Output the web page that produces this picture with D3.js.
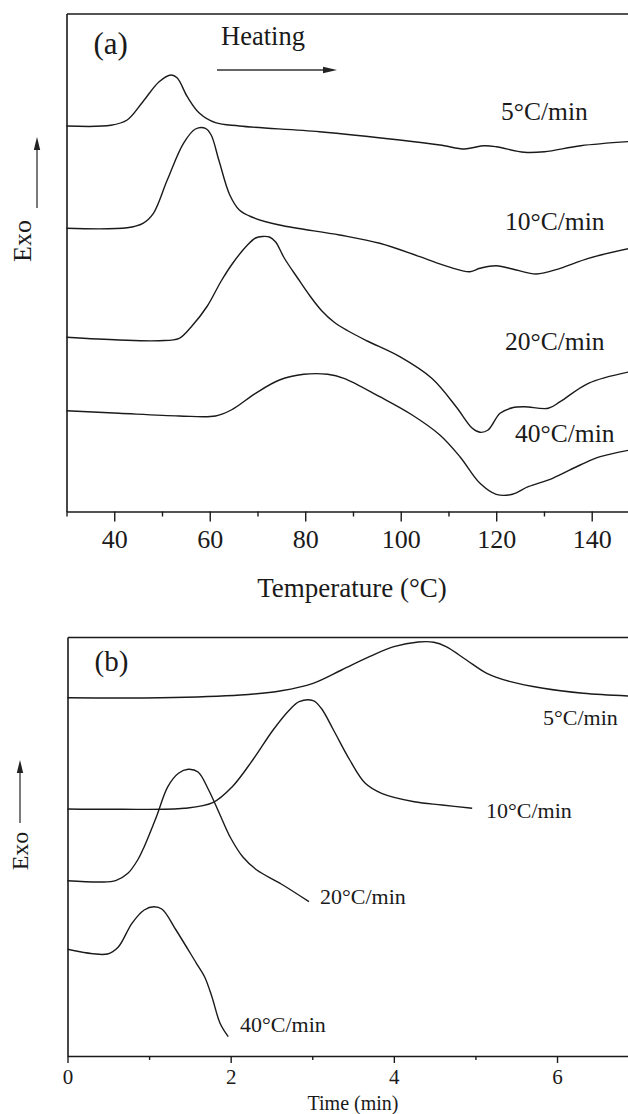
<!DOCTYPE html>
<html>
<head>
<meta charset="utf-8">
<script src="https://cdn.jsdelivr.net/npm/d3@7"></script>
<style>
  html, body { margin: 0; padding: 0; background: #fff; }
  svg { display: block; }
  text { font-family: "Liberation Serif", "Times New Roman", serif; fill: #1a1a1a; }
</style>
</head>
<body>
<svg id="chart" width="628" height="1114"></svg>
<script>
// ---------------- DATA ----------------
// Panel (a): DSC heating curves, heat flow (a.u.) vs temperature (°C)
const tempMajorTicks = [40, 60, 80, 100, 120, 140];
const tempMinorTicks = [30, 50, 70, 90, 110, 130];

const a5T = [30, 39.3, 42.7, 46, 49.4, 51.9, 53.2, 55.3, 57.8, 61.2, 66.2, 83, 99.8, 108.2, 113.3, 115, 117.5, 120, 125.9, 130.1, 137.7, 148];
const a5H = [385.5, 386.2, 391.5, 409.8, 429.8, 436.5, 433.5, 414.8, 398.5, 388.8, 385.5, 379.8, 371.5, 366.5, 362.5, 363.8, 365.8, 364.8, 359.2, 359.8, 365.8, 370];

const a10T = [30, 42.7, 46, 48.2, 51.1, 54.5, 57, 59.1, 60.3, 61.9, 64.2, 66.2, 68.8, 74.6, 87.2, 95.6, 104, 109.9, 114.5, 116.6, 120, 124.2, 128.4, 133.4, 139.3, 148];
const a10H = [283.2, 283.8, 288.2, 298.2, 331.5, 368.2, 382.5, 383.2, 376.5, 351.5, 316.5, 301.5, 294.5, 286.5, 276.5, 268.2, 254.8, 244.8, 239.8, 243.2, 245.8, 241.5, 237.5, 243.2, 253.2, 263.2];

const a20T = [30, 41, 49.4, 53.6, 56.1, 59.5, 62.4, 65, 67.9, 69.6, 71, 72.5, 73.8, 75.6, 78.4, 81, 83.5, 86, 89, 93, 99.8, 106.5, 111.6, 115, 116.6, 118.3, 120.8, 123.4, 125.9, 130.9, 133.4, 139.3, 148];
const a20H = [174.2, 171.5, 170.8, 173.2, 184.5, 205.5, 230.5, 249.5, 266.5, 273.5, 275, 274.5, 269.5, 253.5, 233.5, 215.5, 200.5, 189.5, 180.5, 170.5, 154.8, 133.2, 104.8, 83.2, 79.2, 81.5, 98.2, 103.8, 104.8, 103.2, 109.8, 128.2, 139.8];

const a40T = [30, 41, 53.6, 61.2, 64.5, 69.6, 74.6, 79.7, 84.7, 88.1, 95.6, 102.4, 108.2, 112.4, 116.6, 120, 123.4, 126.7, 131.8, 137.6, 141.8, 148];
const a40H = [100.8, 98.2, 95.5, 95.5, 101.5, 118.2, 131.5, 137.2, 137.2, 133.2, 114.8, 96.5, 76.5, 54.8, 28.2, 17.2, 17.2, 24.8, 33.2, 46.5, 54.8, 61.5];

const aLabels = ["5°C/min", "10°C/min", "20°C/min", "40°C/min"];

// Panel (b): crystallization curves vs time (min)
const timeMajorTicks = [0, 2, 4, 6];
const timeMinorTicks = [1, 3, 5];

const b5t = [0, 1.14, 2.12, 2.62, 3.01, 3.36, 3.70, 4.0, 4.30, 4.49, 4.64, 4.89, 5.14, 5.43, 5.83, 6.32, 6.87];
const b5H = [358.3, 358.3, 361, 365.3, 372.7, 386, 399.3, 409.3, 414, 413.7, 409.3, 396, 382.7, 374.3, 367.7, 362.7, 360];

const b10t = [0, 0.64, 1.43, 1.78, 2.02, 2.27, 2.52, 2.72, 2.84, 3.01, 3.11, 3.26, 3.46, 3.65, 3.85, 4.25, 4.59, 4.96];
const b10H = [247, 246.7, 247.7, 253.3, 269.3, 296, 326, 346, 354.3, 355.3, 347.7, 326, 296, 272.7, 262.7, 254.3, 251, 247.7];

const b20t = [0, 0.4, 0.59, 0.74, 0.86, 0.94, 1.09, 1.23, 1.36, 1.48, 1.60, 1.73, 1.87, 2.0, 2.15, 2.32, 2.62, 2.96];
const b20H = [175.3, 174, 175.3, 182.7, 196, 209.3, 239.3, 269.3, 282.7, 286.7, 284, 266, 241, 218, 199, 186, 172, 154.3];

const b40t = [0, 0.49, 0.62, 0.79, 0.94, 1.06, 1.16, 1.33, 1.58, 1.68, 1.77, 1.87, 1.97];
const b40H = [106.7, 102, 108.7, 132.7, 146, 149.3, 146.7, 126, 92.7, 79.3, 59.3, 32.7, 19.3];

const bLabels = ["5°C/min", "10°C/min", "20°C/min", "40°C/min"];

// ---------------- DRAWING ----------------
const svg = d3.select("#chart");
const ink = "#1a1a1a";
const zip = (xs, ys) => xs.map((x, i) => [x, ys[i]]);

function drawPanel(cfg) {
  const g = svg.append("g");
  const x = d3.scaleLinear().domain(cfg.xDomain).range([cfg.left, cfg.right]);
  const y = d3.scaleLinear().domain(cfg.yDomain).range([cfg.bottom, cfg.top]);

  // minor ticks
  g.append("g")
    .attr("transform", `translate(0,${cfg.bottom})`)
    .call(d3.axisBottom(x).tickValues(cfg.minor).tickSize(cfg.minorLen).tickSizeOuter(0).tickFormat(""))
    .call(a => a.select(".domain").remove())
    .call(a => a.selectAll("line").attr("stroke", ink).attr("stroke-width", 1.4));

  // major ticks + bottom axis line
  const ax = g.append("g")
    .attr("transform", `translate(0,${cfg.bottom})`)
    .call(d3.axisBottom(x).tickValues(cfg.major).tickSize(cfg.majorLen).tickSizeOuter(0)
      .tickPadding(cfg.pad).tickFormat(d3.format("d")));
  ax.select(".domain").attr("stroke", ink).attr("stroke-width", 1.6);
  ax.selectAll("line").attr("stroke", ink).attr("stroke-width", 1.4);
  ax.selectAll("text")
    .attr("font-family", "Liberation Serif, Times New Roman, serif")
    .attr("font-size", cfg.tickFont)
    .attr("fill", ink);

  // left border
  g.append("g")
    .attr("transform", `translate(${cfg.left},0)`)
    .call(d3.axisLeft(y).tickValues([]).tickSizeOuter(0))
    .call(a => a.select(".domain").attr("stroke", ink).attr("stroke-width", 1.6));
  // top border
  g.append("g")
    .attr("transform", `translate(0,${cfg.top})`)
    .call(d3.axisTop(x).tickValues([]).tickSizeOuter(0))
    .call(a => a.select(".domain").attr("stroke", ink).attr("stroke-width", 1.6));

  // curves
  const line = d3.line()
    .x(d => x(d[0]))
    .y(d => y(d[1]))
    .curve(d3.curveCatmullRom.alpha(0.5));
  cfg.series.forEach(s => {
    g.append("path")
      .datum(s)
      .attr("d", line)
      .attr("fill", "none")
      .attr("stroke", ink)
      .attr("stroke-width", 1.4)
      .attr("stroke-linejoin", "round");
  });

  // curve labels
  cfg.labels.forEach((t, i) => {
    g.append("text")
      .attr("x", cfg.labelPos[i][0])
      .attr("y", cfg.labelPos[i][1])
      .attr("font-size", cfg.labelFont)
      .text(t);
  });

  // panel letter
  g.append("text").attr("x", cfg.left + 27).attr("y", cfg.letterY)
    .attr("font-size", cfg.letterFont).text(cfg.letter);

  // x title
  g.append("text").attr("x", cfg.titleX).attr("y", cfg.titleY)
    .attr("text-anchor", "middle").attr("font-size", cfg.titleFont).text(cfg.title);

  // Exo label with arrow
  g.append("text")
    .attr("transform", `translate(${cfg.exoX},${cfg.exoY}) rotate(-90)`)
    .attr("text-anchor", "middle")
    .attr("font-size", cfg.exoFont)
    .text("Exo");
  g.append("line")
    .attr("x1", cfg.arrowX).attr("x2", cfg.arrowX)
    .attr("y1", cfg.arrowBottom).attr("y2", cfg.arrowTip + 10)
    .attr("stroke", "#333").attr("stroke-width", 1.3);
  g.append("path")
    .attr("d", `M${cfg.arrowX},${cfg.arrowTip} L${cfg.arrowX - 3.2},${cfg.arrowTip + 13} L${cfg.arrowX + 3.2},${cfg.arrowTip + 13} Z`)
    .attr("fill", "#222");
  return g;
}

const ga = drawPanel({
  xDomain: [30, 147.6], yDomain: [0, 498], left: 66.5, right: 628, top: 13.5, bottom: 511.5,
  major: tempMajorTicks, minor: tempMinorTicks, majorLen: 10, minorLen: 5, pad: 8, tickFont: 26,
  series: [zip(a5T, a5H), zip(a10T, a10H), zip(a20T, a20H), zip(a40T, a40H)],
  labels: aLabels, labelPos: [[501, 120], [505, 230], [505, 350], [515, 442]], labelFont: 25.5,
  letter: "(a)", letterY: 54, letterFont: 31,
  title: "Temperature (°C)", titleX: 352, titleY: 597, titleFont: 27,
  exoX: 31, exoY: 241, exoFont: 26, arrowX: 37, arrowTip: 137, arrowBottom: 208
});

// Heating arrow
ga.append("text").attr("x", 221).attr("y", 45).attr("font-size", 26.5).text("Heating");
ga.append("line").attr("x1", 217).attr("x2", 326).attr("y1", 70).attr("y2", 70)
  .attr("stroke", "#333").attr("stroke-width", 1.3);
ga.append("path").attr("d", "M337,70 L323,66.8 L323,73.2 Z").attr("fill", "#222");

drawPanel({
  xDomain: [0, 6.87], yDomain: [0, 419], left: 67.5, right: 628, top: 637, bottom: 1056,
  major: timeMajorTicks, minor: timeMinorTicks, majorLen: 7, minorLen: 4, pad: 6, tickFont: 21,
  series: [zip(b5t, b5H), zip(b10t, b10H), zip(b20t, b20H), zip(b40t, b40H)],
  labels: bLabels, labelPos: [[543, 725], [486, 818], [320, 904], [240, 1032]], labelFont: 22,
  letter: "(b)", letterY: 671, letterFont: 29,
  title: "Time (min)", titleX: 353, titleY: 1110, titleFont: 20,
  exoX: 28, exoY: 851, exoFont: 24, arrowX: 20, arrowTip: 760, arrowBottom: 823
});
</script>
</body>
</html>
